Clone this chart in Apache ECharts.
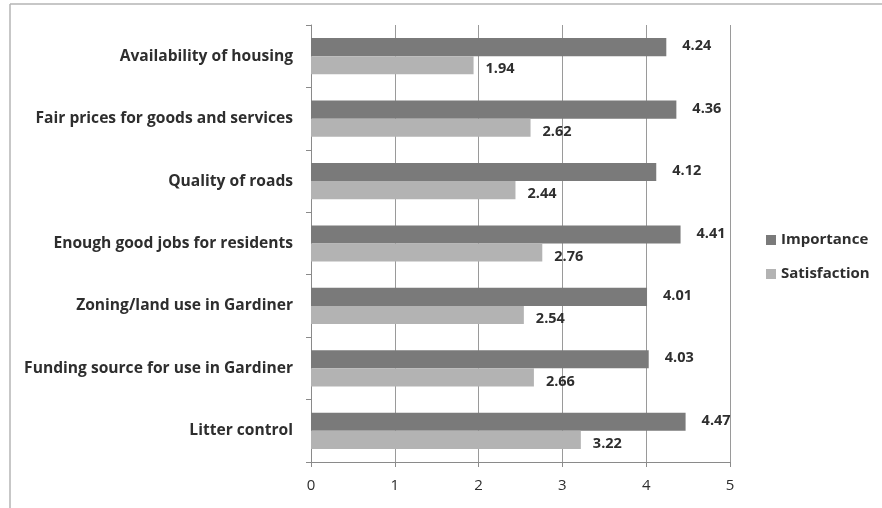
<!DOCTYPE html>
<html>
<head>
<meta charset="utf-8">
<script src="https://cdn.jsdelivr.net/npm/echarts@6/dist/echarts.min.js"></script>
<style>
  html, body { margin: 0; padding: 0; background: #fff; }
  #chart { width: 882px; height: 508px; }
</style>
</head>
<body>
<div id="chart"></div>
<script>
// Survey results: importance vs. satisfaction ratings (1-5 scale)
const categories = [
  'Availability of housing',
  'Fair prices for goods and services',
  'Quality of roads',
  'Enough good jobs for residents',
  'Zoning/land use in Gardiner',
  'Funding source for use in Gardiner',
  'Litter control'
];
const importance = [4.24, 4.36, 4.12, 4.41, 4.01, 4.03, 4.47];
const satisfaction = [1.94, 2.62, 2.44, 2.76, 2.54, 2.66, 3.22];
const xTicks = [0, 1, 2, 3, 4, 5];

const FONT = '"Open Sans", "Liberation Sans", sans-serif';
const TEXT = '#2e2e2e';

const chart = echarts.init(document.getElementById('chart'));
chart.setOption({
  animation: false,
  backgroundColor: '#fff',
  grid: { left: 311, right: 152, top: 25, bottom: 46, containLabel: false },
  legend: {
    orient: 'vertical',
    left: 761,
    top: 225,
    itemWidth: 10,
    itemHeight: 10,
    itemGap: 14,
    icon: 'rect',
    textStyle: { fontFamily: FONT, fontSize: 15, fontWeight: 'bold', color: TEXT, lineHeight: 20 },
    data: ['Importance', 'Satisfaction']
  },
  xAxis: {
    type: 'value',
    min: xTicks[0],
    max: xTicks[xTicks.length - 1],
    interval: 1,
    axisLine: { show: true, lineStyle: { color: '#8a8a8a', width: 1 } },
    axisTick: { show: true, length: 5, lineStyle: { color: '#8a8a8a' } },
    axisLabel: { fontFamily: FONT, fontSize: 15, color: TEXT, margin: 16 },
    splitLine: { show: true, lineStyle: { color: '#9a9a9a', width: 1 } }
  },
  yAxis: {
    type: 'category',
    data: categories,
    inverse: true,
    axisLine: { show: true, lineStyle: { color: '#8a8a8a', width: 1 } },
    axisTick: { show: true, length: 5, lineStyle: { color: '#8a8a8a' } },
    axisLabel: { fontFamily: FONT, fontSize: 15.6, fontWeight: 'bold', color: TEXT, margin: 18 }
  },
  series: [
    {
      name: 'Importance',
      type: 'bar',
      data: importance,
      barGap: '0%',
      barCategoryGap: '42%',
      itemStyle: { color: '#7a7a7a' },
      label: {
        show: true,
        position: 'right',
        distance: 16,
        offset: [0, -1],
        fontFamily: FONT, fontSize: 14.5, fontWeight: 'bold', color: TEXT,
        formatter: p => p.value.toFixed(2)
      }
    },
    {
      name: 'Satisfaction',
      type: 'bar',
      data: satisfaction,
      barGap: '0%',
      barCategoryGap: '42%',
      itemStyle: { color: '#b3b3b3' },
      label: {
        show: true,
        position: 'right',
        distance: 12,
        offset: [0, 4],
        fontFamily: FONT, fontSize: 14.5, fontWeight: 'bold', color: TEXT,
        formatter: p => p.value.toFixed(2)
      }
    }
  ],
  graphic: [
    { type: 'line', shape: { x1: 10, y1: 4, x2: 882, y2: 4 }, style: { stroke: '#b5b5b5', lineWidth: 1.5 } },
    { type: 'line', shape: { x1: 10, y1: 4, x2: 10, y2: 508 }, style: { stroke: '#b5b5b5', lineWidth: 1.5 } }
  ]
});
</script>
</body>
</html>
